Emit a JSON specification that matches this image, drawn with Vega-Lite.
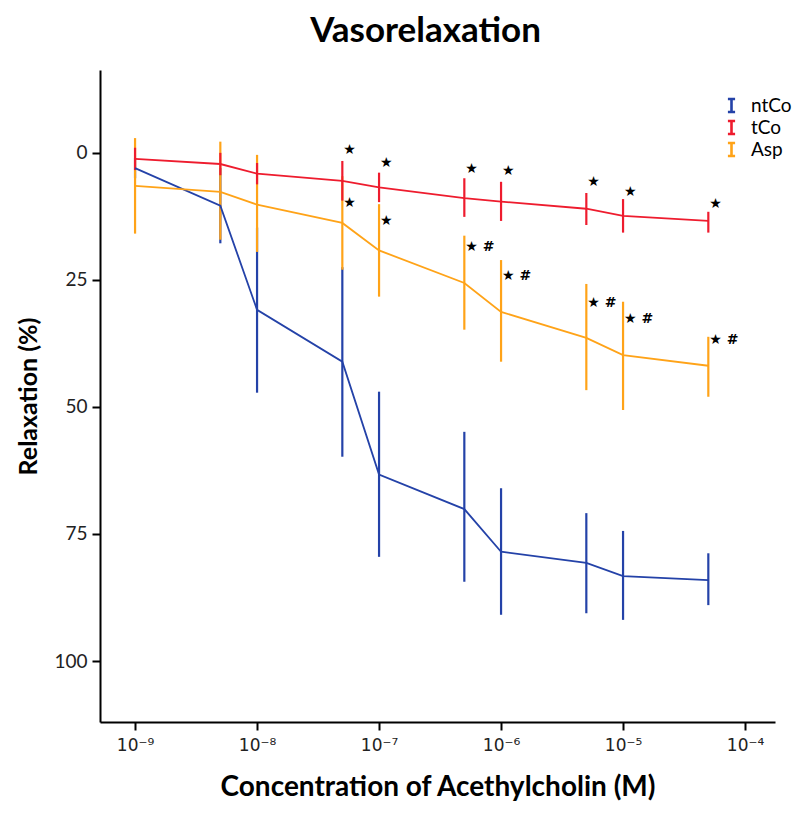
{
  "$schema": "https://vega.github.io/schema/vega-lite/v6.json",
  "width": 675,
  "height": 652,
  "autosize": {"type": "none"},
  "padding": {"left": 100, "top": 70, "right": 30, "bottom": 92},
  "background": "white",
  "title": {"text": "Vasorelaxation", "fontSize": 35, "font": "Lato", "fontWeight": "bold", "color": "black", "offset": 21, "anchor": "middle", "dx": -12},
  "config": {
    "view": {"stroke": null},
    "axis": {"grid": false, "domainColor": "black", "domainWidth": 2, "tickColor": "black", "tickWidth": 2, "tickSize": 8, "labelFont": "Lato", "labelFontSize": 19, "labelColor": "#222", "titleFont": "Lato", "titleFontSize": 28, "titleFontWeight": "bold", "titleColor": "black"}
  },
  "datasets": {
    "series": [
      {"group": "ntCo", "conc": 1e-9, "mean": 3.0, "lo": 1.0, "hi": 5.0},
      {"group": "ntCo", "conc": 5e-9, "mean": 10.4, "lo": 3.0, "hi": 17.8},
      {"group": "ntCo", "conc": 1e-8, "mean": 30.9, "lo": 14.7, "hi": 47.2},
      {"group": "ntCo", "conc": 5e-8, "mean": 41.1, "lo": 22.5, "hi": 59.8},
      {"group": "ntCo", "conc": 1e-7, "mean": 63.3, "lo": 47.0, "hi": 79.5},
      {"group": "ntCo", "conc": 5e-7, "mean": 70.1, "lo": 54.9, "hi": 84.4},
      {"group": "ntCo", "conc": 1e-6, "mean": 78.5, "lo": 66.0, "hi": 90.9},
      {"group": "ntCo", "conc": 5e-6, "mean": 80.7, "lo": 70.9, "hi": 90.6},
      {"group": "ntCo", "conc": 1e-5, "mean": 83.3, "lo": 74.4, "hi": 91.9},
      {"group": "ntCo", "conc": 5e-5, "mean": 84.1, "lo": 78.8, "hi": 89.0},
      {"group": "Asp", "conc": 1e-9, "mean": 6.5, "lo": -2.9, "hi": 15.9},
      {"group": "Asp", "conc": 5e-9, "mean": 7.7, "lo": -2.2, "hi": 17.1},
      {"group": "Asp", "conc": 1e-8, "mean": 10.2, "lo": 0.4, "hi": 19.5},
      {"group": "Asp", "conc": 5e-8, "mean": 13.8, "lo": 4.6, "hi": 23.0},
      {"group": "Asp", "conc": 1e-7, "mean": 19.2, "lo": 10.1, "hi": 28.3},
      {"group": "Asp", "conc": 5e-7, "mean": 25.6, "lo": 16.3, "hi": 34.8},
      {"group": "Asp", "conc": 1e-6, "mean": 31.3, "lo": 21.1, "hi": 41.1},
      {"group": "Asp", "conc": 5e-6, "mean": 36.4, "lo": 25.8, "hi": 46.7},
      {"group": "Asp", "conc": 1e-5, "mean": 39.8, "lo": 29.3, "hi": 50.6},
      {"group": "Asp", "conc": 5e-5, "mean": 41.9, "lo": 36.2, "hi": 48.0},
      {"group": "tCo", "conc": 1e-9, "mean": 1.2, "lo": -1.0, "hi": 3.4},
      {"group": "tCo", "conc": 5e-9, "mean": 2.2, "lo": 0.0, "hi": 4.4},
      {"group": "tCo", "conc": 1e-8, "mean": 4.1, "lo": 2.0, "hi": 6.2},
      {"group": "tCo", "conc": 5e-8, "mean": 5.5, "lo": 1.6, "hi": 9.4},
      {"group": "tCo", "conc": 1e-7, "mean": 6.8, "lo": 3.9, "hi": 9.7},
      {"group": "tCo", "conc": 5e-7, "mean": 8.9, "lo": 5.0, "hi": 12.6},
      {"group": "tCo", "conc": 1e-6, "mean": 9.6, "lo": 5.7, "hi": 13.4},
      {"group": "tCo", "conc": 5e-6, "mean": 11.0, "lo": 7.9, "hi": 14.2},
      {"group": "tCo", "conc": 1e-5, "mean": 12.4, "lo": 9.1, "hi": 15.7},
      {"group": "tCo", "conc": 5e-5, "mean": 13.4, "lo": 11.6, "hi": 15.7}
    ],
    "notes": [
      {"conc": 5e-8, "pos": -0.6, "label": "★"},
      {"conc": 1e-7, "pos": 2.0, "label": "★"},
      {"conc": 5e-7, "pos": 3.1, "label": "★"},
      {"conc": 1e-6, "pos": 3.5, "label": "★"},
      {"conc": 5e-6, "pos": 5.7, "label": "★"},
      {"conc": 1e-5, "pos": 7.7, "label": "★"},
      {"conc": 5e-5, "pos": 10.0, "label": "★"},
      {"conc": 5e-8, "pos": 9.8, "label": "★"},
      {"conc": 1e-7, "pos": 13.4, "label": "★"},
      {"conc": 5e-7, "pos": 18.5, "label": "★ #"},
      {"conc": 1e-6, "pos": 24.2, "label": "★ #"},
      {"conc": 5e-6, "pos": 29.5, "label": "★ #"},
      {"conc": 1e-5, "pos": 32.7, "label": "★ #"},
      {"conc": 5e-5, "pos": 36.8, "label": "★ #"}
    ]
  },
  "layer": [
    {
      "data": {"name": "series"},
      "mark": {"type": "rule", "strokeWidth": 2.2},
      "encoding": {
        "x": {"field": "conc", "type": "quantitative",
              "scale": {"type": "log", "domain": [5.16e-10, 1.76e-4], "nice": false},
              "axis": {"values": [1e-9, 1e-8, 1e-7, 1e-6, 1e-5, 1e-4], "title": "Concentration of Acethylcholin (M)", "titlePadding": 20, "labelPadding": 7, "labelFont": "DejaVu Sans", "labelFontSize": 17,
                       "labelExpr": "'10⁻' + ['⁰','¹','²','³','⁴','⁵','⁶','⁷','⁸','⁹'][-round(log(datum.value)/LN10)]"}},
        "y": {"field": "lo", "type": "quantitative",
              "scale": {"domain": [-16.3, 112], "reverse": true, "nice": false, "zero": false},
              "axis": {"values": [0, 25, 50, 75, 100], "title": "Relaxation (%)", "titleFontSize": 25, "titlePadding": 12, "labelPadding": 5}},
        "y2": {"field": "hi"},
        "color": {"field": "group", "type": "nominal",
                  "scale": {"domain": ["ntCo", "tCo", "Asp"], "range": ["#2442a8", "#ee1c2e", "#ffa318"]},
                  "legend": {"title": null, "orient": "none", "legendX": 622, "legendY": 26, "padding": 0,
                             "symbolType": "M-0.55,-1H0.55M0,-1V1M-0.55,1H0.55", "symbolSize": 170, "symbolStrokeWidth": 2.6, "symbolFillColor": "transparent",
                             "labelFont": "Lato", "labelFontSize": 19, "labelColor": "black", "rowPadding": -3, "labelOffset": 10}}
      }
    },
    {
      "data": {"name": "series"},
      "mark": {"type": "line", "strokeWidth": 1.8},
      "encoding": {
        "x": {"field": "conc", "type": "quantitative"},
        "y": {"field": "mean", "type": "quantitative"},
        "color": {"field": "group", "type": "nominal"}
      }
    },
    {
      "data": {"name": "notes"},
      "mark": {"type": "text", "align": "left", "baseline": "middle", "dx": 1, "font": "DejaVu Sans", "fontSize": 14, "fontWeight": "bold", "color": "black"},
      "encoding": {
        "x": {"field": "conc", "type": "quantitative"},
        "y": {"field": "pos", "type": "quantitative"},
        "text": {"field": "label"}
      }
    }
  ]
}
